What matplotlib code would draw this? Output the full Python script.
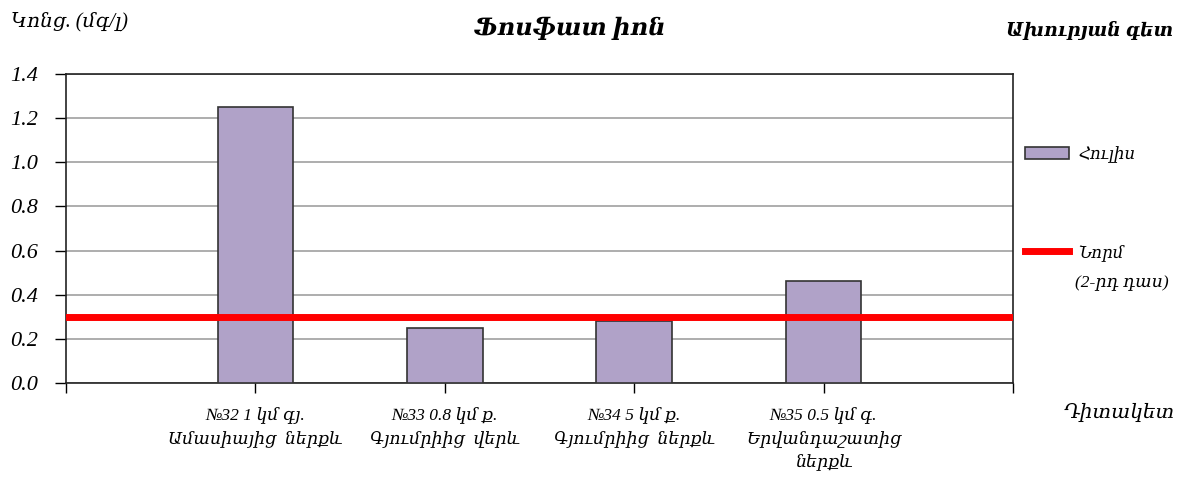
import matplotlib.pyplot as plt
from matplotlib.lines import Line2D
from matplotlib.patches import Patch

# data
stations = ["№32 1 կմ գյ.\nԱմասիայից  ներքև",
            "№33 0.8 կմ ք.\nԳյումրիից  վերև",
            "№34 5 կմ ք.\nԳյումրիից  ներքև",
            "№35 0.5 կմ գ.\nԵրվանդաշատից\nներքև"]
july = [1.25, 0.25, 0.28, 0.46]
norm = 0.3
yticks = [0.0, 0.2, 0.4, 0.6, 0.8, 1.0, 1.2, 1.4]

FONT = ['Liberation Serif', 'DejaVu Serif', 'DejaVu Sans']
BAR = '#B0A2C8'

fig = plt.figure(figsize=(11.83, 4.8), dpi=100)
ax = fig.add_axes([0.0558, 0.2021, 0.8005, 0.6437])

x = list(range(len(stations)))
ax.bar(x, july, width=0.4, color=BAR, edgecolor='#333333', linewidth=1.2, zorder=3)
ax.axhline(norm, color='#FF0000', linewidth=5, zorder=4)

ax.set_xlim(-1, len(stations))
ax.set_ylim(0, 1.4)
ax.set_yticks(yticks)
ax.set_yticklabels([f"{v:.1f}" for v in yticks], family=FONT, style='italic', fontsize=16)
ax.yaxis.grid(True, color='#A0A0A0', linewidth=1.2, zorder=0)
ax.tick_params(axis='y', length=8, width=1, pad=12)

ax.set_xticks([-1] + x + [len(stations)])
ax.set_xticklabels([''] + stations + [''], family=FONT, style='italic',
                   fontsize=12.5, linespacing=1.5, va='top')
ax.tick_params(axis='x', length=7, width=1, pad=10)

for s in ax.spines.values():
    s.set_color('#222222')
    s.set_linewidth(1.2)

fig.text(0.009, 0.955, "Կոնց. (մգ/լ)", family=FONT, style='italic', fontsize=14.5,
         ha='left', va='center')
fig.text(0.4815, 0.94, "Ֆոսֆատ իոն", family=FONT, style='italic', weight='bold',
         fontsize=17.5, ha='center', va='center')
fig.text(0.992, 0.937, "Ախուրյան գետ", family=FONT, style='italic', weight='bold',
         fontsize=13.5, ha='right', va='center')
fig.text(0.993, 0.138, "Դիտակետ", family=FONT, style='italic', fontsize=14.5,
         ha='right', va='center')

handles = [Patch(facecolor=BAR, edgecolor='#333333', linewidth=1.2),
           Line2D([0], [0], color='#FF0000', linewidth=5)]
leg = fig.legend(handles, ["Հուլիս", "Նորմ"], loc='upper left',
                 bbox_to_anchor=(0.861, 0.71), frameon=False,
                 prop={'family': FONT, 'style': 'italic', 'size': 12},
                 labelspacing=4.9, handlelength=2.6, handletextpad=0.6,
                 borderaxespad=0)
fig.text(0.909, 0.41, "(2-րդ դաս)", family=FONT, style='italic', fontsize=12.5,
         ha='left', va='center')

fig.savefig('out.png', dpi=100)
